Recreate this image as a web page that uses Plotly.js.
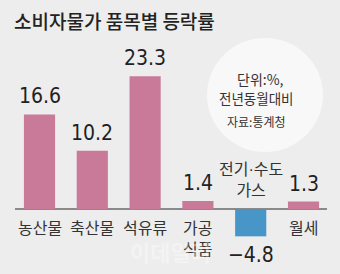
<!DOCTYPE html>
<html>
<head>
<meta charset="utf-8">
<script src="https://cdn.plot.ly/plotly-3.0.1.min.js"></script>
<style>
  html, body { margin: 0; padding: 0; background: #ededed; }
  #chart { width: 340px; height: 274px; }
</style>
</head>
<body>
<div id="chart"></div>
<script>
// 품목별 소비자물가 등락률 (전년동월대비, %)
const categories = ['농산물', '축산물', '석유류', '가공식품', '전기·수도가스', '월세'];
const categoryLabels = ['농산물', '축산물', '석유류', '가공<br>식품',
  '전기<span style="font-family:Liberation Sans">·</span>수도<br>가스', '월세'];
const values = [16.6, 10.2, 23.3, 1.4, -4.8, 1.3];
const valueLabels = ['16.6', '10.2', '23.3', '1.4', '\u22124.8', '1.3'];

const PINK = '#c97a99';
const BLUE = '#4895c8';
const KR = '"Noto Sans CJK KR", "Noto Sans", sans-serif';
const NUM = '"Liberation Sans Narrow", "DejaVu Sans Condensed", "Liberation Sans", sans-serif';

const barTrace = {
  type: 'bar',
  x: categories,
  y: values,
  width: 0.59,
  marker: { color: values.map(v => v < 0 ? BLUE : PINK), line: { width: 0 } },
  hoverinfo: 'none'
};

const annotations = [];

// value labels at the end of each bar
values.forEach((v, i) => {
  annotations.push({
    x: categories[i], y: v, xref: 'x', yref: 'y',
    text: valueLabels[i], showarrow: false,
    yanchor: v < 0 ? 'top' : 'bottom',
    yshift: v < 0 ? -5 : 4,
    font: { family: NUM, size: 21, color: '#222' }
  });
});

// category labels: below the axis, above it for negative bars
values.forEach((v, i) => {
  annotations.push({
    x: categories[i], y: 0, xref: 'x', yref: 'y',
    text: categoryLabels[i], showarrow: false,
    yanchor: v < 0 ? 'bottom' : 'top',
    yshift: v < 0 ? 6 : -4,
    font: { family: KR, size: 16, color: '#333' }
  });
});

// unit / source note inside the circle
annotations.push(
  { x: 260, y: 79, xref: 'paper', yref: 'paper', text: '단위:%,', showarrow: false,
    xanchor: 'center', yanchor: 'middle', font: { family: KR, size: 14, color: '#333' } },
  { x: 256, y: 98, xref: 'paper', yref: 'paper', text: '전년동월대비', showarrow: false,
    xanchor: 'center', yanchor: 'middle', font: { family: KR, size: 13.5, color: '#333' } },
  { x: 256, y: 122, xref: 'paper', yref: 'paper', text: '자료:통계청', showarrow: false,
    xanchor: 'center', yanchor: 'middle', font: { family: KR, size: 12, color: '#333' } },
  { x: 170, y: 251, xref: 'paper', yref: 'paper', text: '<b>이데일리</b>', showarrow: false,
    xanchor: 'center', yanchor: 'middle', opacity: 0.35,
    font: { family: KR, size: 22, color: '#ffffff' } }
);

// convert pixel positions of paper annotations into paper fractions
const M = { l: 15, r: 13, t: 62, b: 29 };
const PW = 340 - M.l - M.r, PH = 274 - M.t - M.b;
annotations.forEach(a => {
  if (a.xref === 'paper') {
    a.x = (a.x - M.l) / PW;
    a.y = 1 - (a.y - M.t) / PH;
  }
});

const layout = {
  width: 340, height: 274,
  margin: M,
  paper_bgcolor: '#ededed',
  plot_bgcolor: 'rgba(0,0,0,0)',
  showlegend: false,
  title: {
    text: '소비자물가 품목별 등락률',
    x: 14 / 340, xref: 'container', xanchor: 'left',
    y: 1 - 22.5 / 274, yref: 'container', yanchor: 'middle',
    font: { family: KR, size: 19, color: '#222', weight: 500 }
  },
  xaxis: {
    type: 'category',
    range: [-0.464, 5.445],
    showticklabels: false, showgrid: false, zeroline: false, showline: false,
    fixedrange: true
  },
  yaxis: {
    range: [-6.32, 25.79],
    showticklabels: false, showgrid: false,
    zeroline: true, zerolinecolor: '#8a8a8a', zerolinewidth: 1.5,
    fixedrange: true
  },
  shapes: [{
    type: 'circle', xref: 'paper', yref: 'paper', layer: 'below',
    x0: (207 - M.l) / PW, x1: (323 - M.l) / PW,
    y0: 1 - (152 - M.t) / PH, y1: 1 - (38 - M.t) / PH,
    fillcolor: '#f8f8f8', line: { width: 0 }
  }],
  annotations: annotations,
  bargap: 0.4
};

Plotly.newPlot('chart', [barTrace], layout, { displayModeBar: false, staticPlot: true });
</script>
</body>
</html>
